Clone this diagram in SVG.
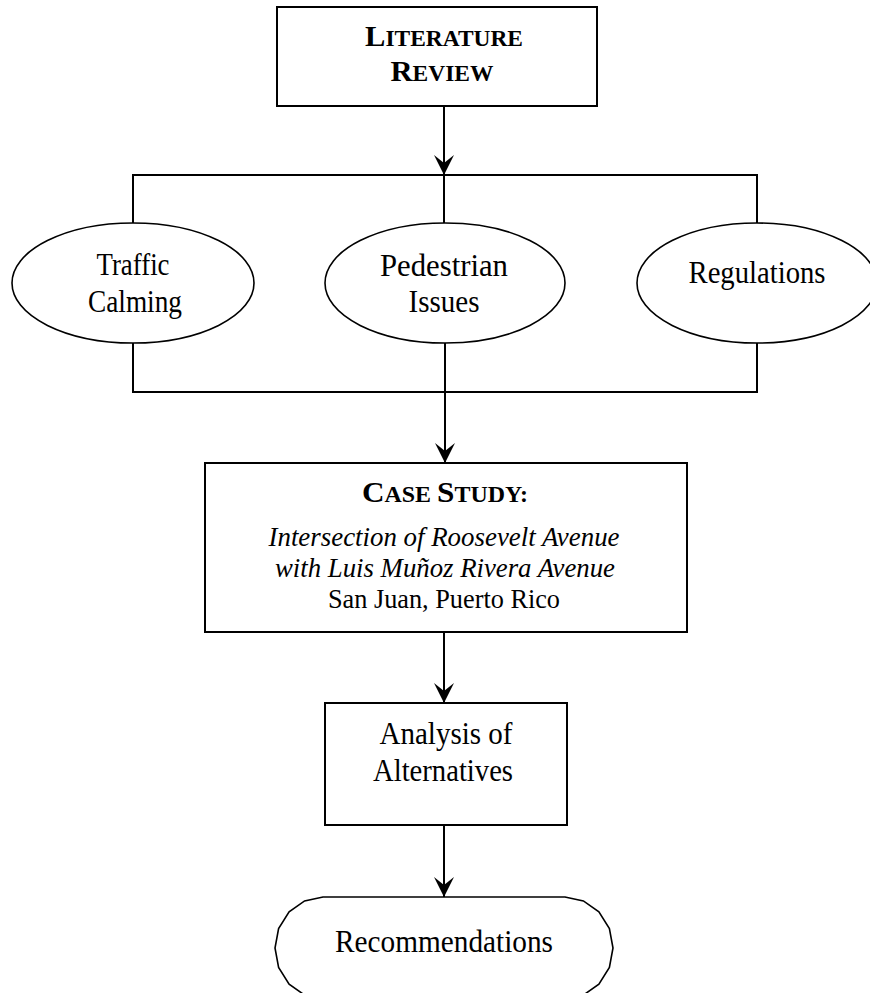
<svg xmlns="http://www.w3.org/2000/svg" width="870" height="993" viewBox="0 0 870 993">
<style>
  text { font-family: "Liberation Serif", "Times New Roman", serif; fill: #000; text-anchor: middle; }
  .lbl { font-size: 30.5px; }
  .cs { font-size: 27px; }
  .bold { font-weight: bold; }
  .box { fill: #fff; stroke: #000; stroke-width: 2; }
  .ell { fill: #fff; stroke: #000; stroke-width: 1.6; }
  .con { fill: none; stroke: #000; stroke-width: 2; }
</style>
<defs>
  <marker id="arr" viewBox="-21 -11 22 22" markerWidth="22" markerHeight="22" refX="0" refY="0" markerUnits="userSpaceOnUse" orient="auto">
    <path d="M0,0 L-20,-10 L-12,0 L-20,10 Z" fill="#000"/>
  </marker>
</defs>
<rect width="870" height="993" fill="#fff"/>

<g id="connectors">
  <line class="con" x1="444" y1="106" x2="444" y2="175" marker-end="url(#arr)"/>
  <line class="con" x1="444" y1="175" x2="444" y2="223"/>
  <polyline class="con" points="133,223 133,175 757,175 757,223"/>
  <polyline class="con" points="133,343 133,392 757,392 757,343"/>
  <line class="con" x1="445" y1="343" x2="445" y2="392"/>
  <line class="con" x1="445" y1="392" x2="445" y2="463" marker-end="url(#arr)"/>
  <line class="con" x1="444" y1="632" x2="444" y2="703" marker-end="url(#arr)"/>
  <line class="con" x1="444" y1="825" x2="444" y2="897" marker-end="url(#arr)"/>
</g>

<g id="literature-review">
  <rect class="box" x="277" y="7" width="320" height="99"/>
  <text class="bold" x="444" y="46" textLength="158" lengthAdjust="spacingAndGlyphs"><tspan font-size="30">L</tspan><tspan font-size="23">ITERATURE</tspan></text>
  <text class="bold" x="442" y="81" textLength="103" lengthAdjust="spacingAndGlyphs"><tspan font-size="30">R</tspan><tspan font-size="23">EVIEW</tspan></text>
</g>

<g id="traffic-calming">
  <ellipse class="ell" cx="133" cy="283" rx="121" ry="60"/>
  <text class="lbl" x="133" y="275" textLength="73" lengthAdjust="spacingAndGlyphs">Traffic</text>
  <text class="lbl" x="135" y="312" textLength="94" lengthAdjust="spacingAndGlyphs">Calming</text>
</g>

<g id="pedestrian-issues">
  <ellipse class="ell" cx="445" cy="283" rx="120" ry="60"/>
  <text class="lbl" x="444" y="276" textLength="128" lengthAdjust="spacingAndGlyphs">Pedestrian</text>
  <text class="lbl" x="444" y="312" textLength="71" lengthAdjust="spacingAndGlyphs">Issues</text>
</g>

<g id="regulations">
  <ellipse class="ell" cx="757" cy="283" rx="120" ry="60"/>
  <text class="lbl" x="757" y="283" textLength="137" lengthAdjust="spacingAndGlyphs">Regulations</text>
</g>

<g id="case-study">
  <rect class="box" x="205" y="463" width="482" height="169"/>
  <text class="bold" x="445" y="502" textLength="166" lengthAdjust="spacingAndGlyphs"><tspan font-size="30">C</tspan><tspan font-size="23">ASE </tspan><tspan font-size="30">S</tspan><tspan font-size="23">TUDY:</tspan></text>
  <text class="cs" x="444" y="546" font-style="italic" textLength="351" lengthAdjust="spacingAndGlyphs">Intersection of Roosevelt Avenue</text>
  <text class="cs" x="445" y="577" font-style="italic" textLength="340" lengthAdjust="spacingAndGlyphs">with Luis Muñoz Rivera Avenue</text>
  <text class="cs" x="444" y="608" textLength="232" lengthAdjust="spacingAndGlyphs">San Juan, Puerto Rico</text>
</g>

<g id="analysis">
  <rect class="box" x="325" y="703" width="242" height="122"/>
  <text class="lbl" x="446" y="744" textLength="133" lengthAdjust="spacingAndGlyphs">Analysis of</text>
  <text class="lbl" x="443" y="781" textLength="140" lengthAdjust="spacingAndGlyphs">Alternatives</text>
</g>

<g id="recommendations">
  <polygon class="ell" points="323,897 565,897 583.4,900.9 598.9,911.9 609.4,928.5 613,948 609.4,967.5 598.9,984.1 583.4,995.1 565,999 323,999 304.6,995.1 289.1,984.1 278.6,967.5 275,948 278.6,928.5 289.1,911.9 304.6,900.9"/>
  <text class="lbl" x="444" y="952" textLength="218" lengthAdjust="spacingAndGlyphs">Recommendations</text>
</g>
</svg>
